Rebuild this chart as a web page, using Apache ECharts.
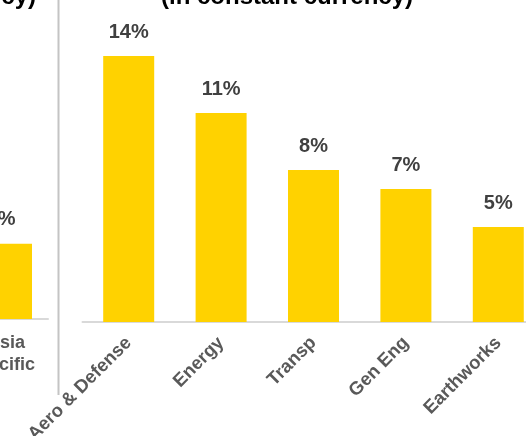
<!DOCTYPE html>
<html>
<head>
<meta charset="utf-8">
<script src="https://cdn.jsdelivr.net/npm/echarts@6/dist/echarts.min.js"></script>
<style>
  html, body { margin: 0; padding: 0; background: #fff; }
  #chart { width: 526px; height: 436px; }
</style>
</head>
<body>
<div id="chart"></div>
<script>
// left panel (mostly cropped off): only Asia Pacific is visible
const regionCats = ['Asia\nPacific']
const regionGrowth = [4]

// right panel: growth by end market, in constant currency
const marketCats = ['Aero & Defense', 'Energy', 'Transp', 'Gen Eng', 'Earthworks']
const marketGrowth = [14, 11, 8, 7, 5]

const titleText = '(in constant currency)'

const FONT = '"Liberation Sans", Arial, sans-serif'
const barColor = '#ffd200'
const axisClr = '#d9d9d9'

const chart = echarts.init(document.getElementById('chart'))

function valueLabel(offsetX) {
  return {
    show: true,
    position: 'top',
    distance: 14,
    offset: [offsetX, 0],
    formatter: p => p.value + '%',
    color: '#404040',
    fontFamily: FONT,
    fontWeight: 'bold',
    fontSize: 20,
  }
}

chart.setOption({
  animation: false,
  backgroundColor: '#fff',
  grid: [
    { left: -36, top: 56, width: 84, height: 263, outerBoundsMode: 'none' },
    { left: 82.5, top: 56, width: 462, height: 266, outerBoundsMode: 'none' },
  ],
  xAxis: [
    {
      type: 'category',
      gridIndex: 0,
      data: regionCats,
      axisLine: { lineStyle: { color: axisClr, width: 2 } },
      axisTick: { show: false },
      axisLabel: {
        color: '#595959', fontFamily: FONT, fontWeight: 'bold', fontSize: 18,
        lineHeight: 22, margin: 13,
      },
    },
    {
      type: 'category',
      gridIndex: 1,
      data: marketCats,
      axisLine: { lineStyle: { color: axisClr, width: 2 } },
      axisTick: { show: false },
      axisLabel: {
        color: '#595959', fontFamily: FONT, fontWeight: 'bold', fontSize: 18.5,
        rotate: 45, interval: 0, margin: 18,
      },
    },
  ],
  yAxis: [
    { type: 'value', gridIndex: 0, min: 0, max: 14, show: false },
    { type: 'value', gridIndex: 1, min: 0, max: 14, show: false },
  ],
  series: [
    {
      type: 'bar', xAxisIndex: 0, yAxisIndex: 0,
      data: regionGrowth, barWidth: 52,
      itemStyle: { color: barColor },
      label: valueLabel(-5),
    },
    {
      type: 'bar', xAxisIndex: 1, yAxisIndex: 1,
      data: marketGrowth, barWidth: 51,
      itemStyle: { color: barColor },
      label: valueLabel(0),
    },
  ],
  graphic: [
    {
      type: 'line',
      shape: { x1: 58.5, y1: 0, x2: 58.5, y2: 395 },
      style: { stroke: '#c4c4c4', lineWidth: 2 },
    },
    {
      type: 'text', x: 287, y: -3,
      style: {
        text: titleText, fill: '#000', font: 'bold 24px ' + FONT,
        align: 'center', verticalAlign: 'middle',
      },
    },
    {
      type: 'text', x: 36, y: -3,
      style: {
        text: titleText, fill: '#000', font: 'bold 24px ' + FONT,
        align: 'right', verticalAlign: 'middle',
      },
    },
  ],
})
</script>
</body>
</html>
